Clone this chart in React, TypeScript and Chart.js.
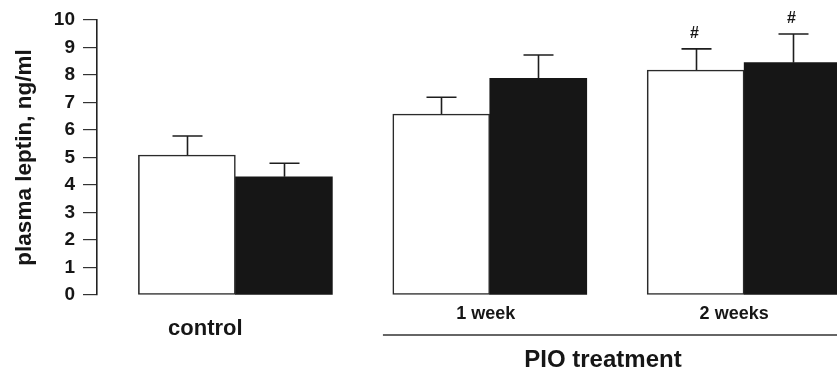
import React, { useEffect, useRef } from 'react';
import { Chart, registerables } from 'chart.js';

Chart.register(...registerables);

// ---- data ----
const groups = ['control', '1 week', '2 weeks'];
const whiteMeans = [5.09, 6.58, 8.18];
const whiteErrors = [0.69, 0.61, 0.77];
const blackMeans = [4.3, 7.88, 8.45];
const blackErrors = [0.49, 0.85, 1.04];
const whiteMarks = ['', '', '#'];
const blackMarks = ['', '', '#'];
const yMin = 0;
const yMax = 10;
const yStep = 1;
const yTitle = 'plasma leptin, ng/ml';
const treatmentLabel = 'PIO treatment';

const FONT = '"Liberation Sans", Arial, Helvetica, sans-serif';
const INK = '#161616';

const annotate = {
  id: 'annotate',
  afterDatasetsDraw(chart: any) {
    const ctx = chart.ctx as CanvasRenderingContext2D;
    const yS = chart.scales.y;
    const sets = [
      { means: whiteMeans, errs: whiteErrors, marks: whiteMarks },
      { means: blackMeans, errs: blackErrors, marks: blackMarks },
    ];
    ctx.save();
    sets.forEach((s, di) => {
      const meta = chart.getDatasetMeta(di);
      meta.data.forEach((bar: any, i: number) => {
        const x = Math.round(bar.x) + 0.5;
        const top = bar.y;
        const errY = yS.getPixelForValue(s.means[i] + s.errs[i]);
        ctx.strokeStyle = '#1e1e1e';
        ctx.lineWidth = 1.6;
        ctx.beginPath();
        ctx.moveTo(x, top);
        ctx.lineTo(x, errY);
        ctx.moveTo(x - 15, errY);
        ctx.lineTo(x + 15, errY);
        ctx.stroke();
        if (s.marks[i]) {
          ctx.fillStyle = INK;
          ctx.font = `bold 16px ${FONT}`;
          ctx.textAlign = 'center';
          ctx.textBaseline = 'middle';
          ctx.fillText(s.marks[i], x - 2, errY - 15);
        }
      });
    });
    ctx.restore();
  },
  afterDraw(chart: any) {
    const ctx = chart.ctx as CanvasRenderingContext2D;
    const xS = chart.scales.x;
    const bottom = chart.chartArea.bottom;
    const unit = xS.getPixelForValue(1) - xS.getPixelForValue(0);
    ctx.save();
    ctx.fillStyle = INK;
    ctx.textAlign = 'center';
    ctx.textBaseline = 'middle';
    // group labels
    ctx.font = `bold 22px ${FONT}`;
    ctx.fillText(groups[0], xS.getPixelForValue(0) - 30, bottom + 34);
    ctx.font = `bold 18px ${FONT}`;
    ctx.fillText(groups[1], xS.getPixelForValue(1) - 4, bottom + 19);
    ctx.fillText(groups[2], xS.getPixelForValue(2) - 10, bottom + 19);
    // bracket line under treated groups
    const lineY = bottom + 40;
    ctx.strokeStyle = '#333';
    ctx.lineWidth = 1.6;
    ctx.beginPath();
    ctx.moveTo(xS.getPixelForValue(1) - 0.42 * unit, lineY);
    ctx.lineTo(chart.width + 5, lineY);
    ctx.stroke();
    ctx.font = `bold 24px ${FONT}`;
    ctx.fillText(
      treatmentLabel,
      (xS.getPixelForValue(1) + xS.getPixelForValue(2)) / 2 - 14,
      bottom + 65
    );
    ctx.restore();
  },
};

export default function App() {
  const ref = useRef<HTMLCanvasElement | null>(null);
  useEffect(() => {
    if (!ref.current) return;
    const chart = new Chart(ref.current, {
      type: 'bar',
      data: {
        datasets: [
          {
            label: 'white',
            data: whiteMeans.map((v, i) => ({ x: i, y: v })),
            backgroundColor: '#ffffff',
            borderColor: '#2a2a2a',
            borderWidth: 1.6,
            borderSkipped: false,
          },
          {
            label: 'black',
            data: blackMeans.map((v, i) => ({ x: i, y: v })),
            backgroundColor: INK,
            borderColor: INK,
            borderWidth: 0,
          },
        ],
      },
      options: {
        animation: false,
        responsive: false,
        devicePixelRatio: 1,
        layout: { padding: { top: 20, bottom: 78, left: 0, right: 0 } },
        plugins: { legend: { display: false }, tooltip: { enabled: false } },
        datasets: { bar: { barThickness: 97 } },
        scales: {
          x: {
            type: 'linear',
            offset: false,
            min: -0.544,
            max: 2.365,
            display: false,
          },
          y: {
            min: yMin,
            max: yMax,
            ticks: {
              stepSize: yStep,
              padding: 8,
              color: INK,
              font: { family: FONT, size: 19, weight: 'bold' },
            },
            grid: {
              drawOnChartArea: false,
              tickLength: 14,
              color: '#333',
              lineWidth: 1.2,
            },
            border: { color: '#222', width: 1.6 },
            title: {
              display: true,
              text: yTitle,
              color: INK,
              font: { family: FONT, size: 22.5, weight: 'bold' },
              padding: { top: 11, bottom: 0 },
            },
            afterFit(scale: any) {
              scale.width = 97;
            },
          },
        },
      } as any,
      plugins: [annotate],
    });
    return () => chart.destroy();
  }, []);
  return (
    <div style={{ position: 'fixed', left: 0, top: 0, width: 837, height: 373, overflow: 'hidden', background: '#fff' }}>
      <canvas ref={ref} width={837} height={373} style={{ display: 'block' }} />
    </div>
  );
}
